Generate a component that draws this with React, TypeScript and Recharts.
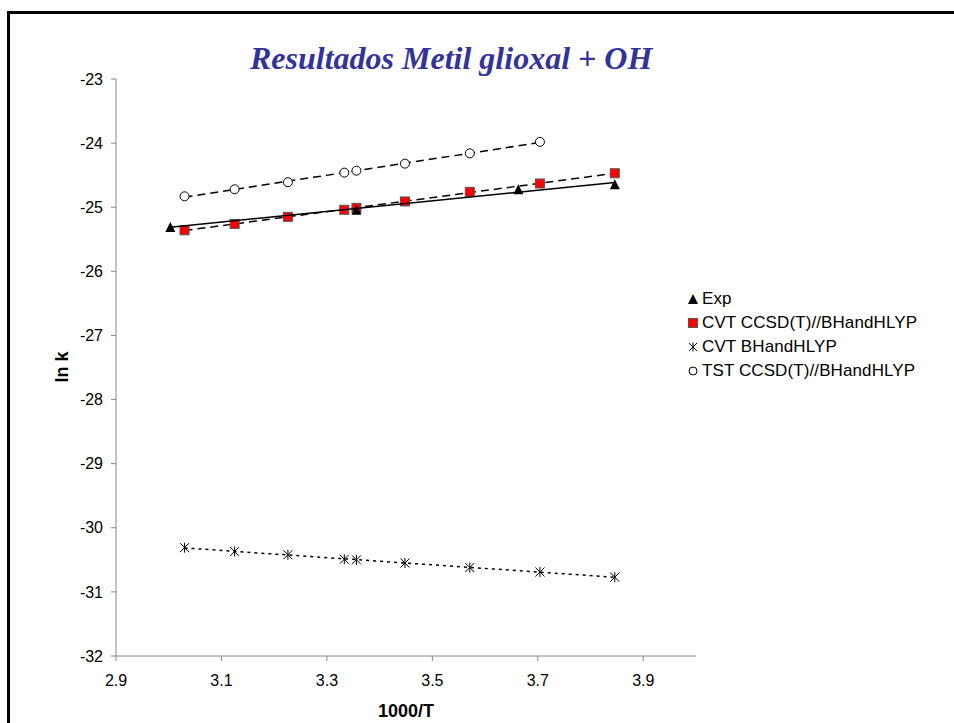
import React from "react";
import { ScatterChart, Scatter, XAxis, YAxis } from "recharts";

// 1000/T values (T = 333, 298, 273, 260 K for experiment; 330..260 K for calcs)
const expX = [3.003, 3.356, 3.663, 3.846];
const expY = [-25.31, -25.04, -24.72, -24.64];

const calcX = [3.03, 3.125, 3.226, 3.333, 3.356, 3.448, 3.571, 3.704, 3.846];
const cvtCcsdY = [-25.36, -25.26, -25.15, -25.04, -25.01, -24.91, -24.76, -24.63, -24.47];
const cvtBhY = [-30.31, -30.37, -30.42, -30.49, -30.5, -30.55, -30.62, -30.69, -30.77];

const tstX = [3.03, 3.125, 3.226, 3.333, 3.356, 3.448, 3.571, 3.704];
const tstY = [-24.83, -24.72, -24.61, -24.46, -24.43, -24.32, -24.16, -23.98];

const xTicks = [2.9, 3.1, 3.3, 3.5, 3.7, 3.9];
const yTicks = [-32, -31, -30, -29, -28, -27, -26, -25, -24, -23];

const toPoints = (xs: number[], ys: number[]) => xs.map((x, i) => ({ x, y: ys[i] }));

const Triangle = ({ cx, cy, s = 5 }: any) => (
  <polygon points={`${cx},${cy - s} ${cx + s},${cy + s} ${cx - s},${cy + s}`} fill="#000" />
);
const Square = ({ cx, cy, s = 4.5 }: any) => (
  <rect x={cx - s} y={cy - s} width={s * 2} height={s * 2} fill="#ff0000" stroke="#555" strokeWidth={1} />
);
const Star = ({ cx, cy, s = 4.5 }: any) => (
  <g stroke="#000" strokeWidth={1}>
    <line x1={cx - s} y1={cy - s} x2={cx + s} y2={cy + s} />
    <line x1={cx - s} y1={cy + s} x2={cx + s} y2={cy - s} />
    <line x1={cx} y1={cy - s - 0.5} x2={cx} y2={cy + s + 0.5} />
  </g>
);
const Ring = ({ cx, cy, s = 4.5 }: any) => (
  <circle cx={cx} cy={cy} r={s} fill="#fff" stroke="#000" strokeWidth={1} />
);

const series = [
  { name: "Exp", Shape: Triangle, size: 5 },
  { name: "CVT CCSD(T)//BHandHLYP", Shape: Square, size: 4.5 },
  { name: "CVT BHandHLYP", Shape: Star, size: 4 },
  { name: "TST CCSD(T)//BHandHLYP", Shape: Ring, size: 4 },
];

const tickStyle = { fontSize: 16, fill: "#000", fontFamily: "Liberation Sans, Arial" };

export default function App() {
  return (
    <div
      style={{
        position: "fixed",
        left: 0,
        top: 0,
        width: 954,
        height: 723,
        overflow: "hidden",
        background: "#fff",
        fontFamily: "Liberation Sans, Arial, sans-serif",
      }}
    >
      <div
        style={{
          position: "absolute",
          left: 7,
          top: 11,
          width: 1000,
          height: 800,
          border: "3px solid #000",
        }}
      />
      <div
        style={{
          position: "absolute",
          left: 250,
          top: 38,
          fontFamily: "Liberation Serif, Times New Roman, serif",
          fontStyle: "italic",
          fontWeight: "bold",
          fontSize: 32,
          color: "#333399",
          whiteSpace: "nowrap",
          lineHeight: "40px",
        }}
      >
        Resultados Metil glioxal + OH
      </div>

      <ScatterChart width={954} height={723} margin={{ top: 79, right: 258, bottom: 37, left: 66 }}>
        <XAxis
          type="number"
          dataKey="x"
          domain={[2.9, 4.0]}
          ticks={xTicks}
          tickFormatter={(v: number) => v.toFixed(1)}
          height={30}
          stroke="#868686"
          tickSize={5}
          tickMargin={14}
          tick={tickStyle}
          allowDataOverflow
        />
        <YAxis
          type="number"
          dataKey="y"
          domain={[-32, -23]}
          ticks={yTicks}
          width={50}
          stroke="#868686"
          tickSize={5}
          tickMargin={8}
          tick={tickStyle}
          allowDataOverflow
        />
        <Scatter
          data={toPoints(tstX, tstY)}
          line={{ stroke: "#000", strokeWidth: 1.5, strokeDasharray: "8 5" }}
          lineType="fitting"
          shape={<Ring />}
          isAnimationActive={false}
        />
        <Scatter
          data={toPoints(calcX, cvtBhY)}
          line={{ stroke: "#000", strokeWidth: 1.5, strokeDasharray: "3 4" }}
          lineType="fitting"
          shape={<Star />}
          isAnimationActive={false}
        />
        <Scatter
          data={toPoints(calcX, cvtCcsdY)}
          line={{ stroke: "#000", strokeWidth: 1.5, strokeDasharray: "8 5" }}
          lineType="fitting"
          shape={<Square />}
          isAnimationActive={false}
        />
        <Scatter
          data={toPoints(expX, expY)}
          line={{ stroke: "#000", strokeWidth: 1.5 }}
          lineType="fitting"
          shape={<Triangle />}
          isAnimationActive={false}
        />
      </ScatterChart>

      <div
        style={{
          position: "absolute",
          left: 62,
          top: 367,
          transform: "translate(-50%, -50%) rotate(-90deg)",
          fontWeight: "bold",
          fontSize: 18,
          whiteSpace: "nowrap",
        }}
      >
        ln k
      </div>
      <div
        style={{
          position: "absolute",
          left: 406,
          top: 711,
          transform: "translate(-50%, -50%)",
          fontWeight: "bold",
          fontSize: 18,
          whiteSpace: "nowrap",
        }}
      >
        1000/T
      </div>

      <div style={{ position: "absolute", left: 686, top: 287 }}>
        {series.map(({ name, Shape, size }) => (
          <div key={name} style={{ display: "flex", alignItems: "center", height: 24 }}>
            <svg width={14} height={14} style={{ marginRight: 2 }}>
              <Shape cx={7} cy={7} s={size} />
            </svg>
            <span style={{ fontSize: 17, whiteSpace: "nowrap", letterSpacing: 0.1 }}>{name}</span>
          </div>
        ))}
      </div>
    </div>
  );
}
